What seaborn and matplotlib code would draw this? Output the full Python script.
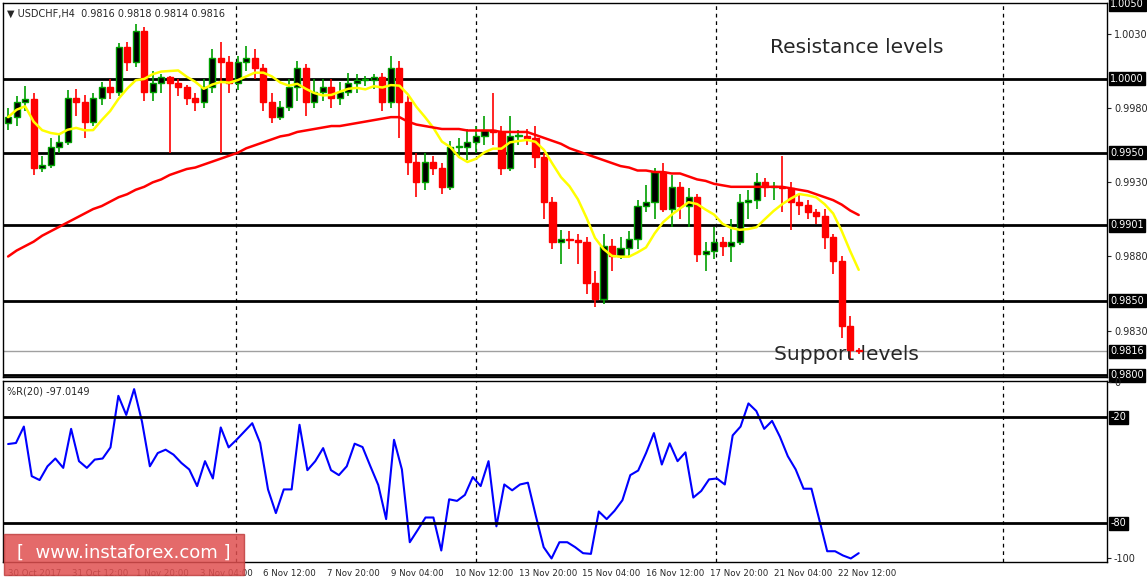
import numpy as np
import pandas as pd
import seaborn as sns
import matplotlib.pyplot as plt
from matplotlib.patches import FancyBboxPatch

# ---- candle data (USDCHF H4) ----
closes = [0.9974, 0.9984, 0.9986, 0.9940, 0.9942, 0.9954, 0.9957, 0.9987, 0.9984, 0.9971,
          0.9987, 0.9994, 0.9991, 1.0021, 1.0011, 1.0032, 0.9991, 0.9997, 1.0001, 0.9997,
          0.9994, 0.9987, 0.9984, 0.9994, 1.0014, 1.0011, 0.9997, 1.0011, 1.0014, 1.0007,
          0.9984, 0.9974, 0.9981, 0.9994, 1.0007, 0.9984, 0.9991, 0.9994, 0.9987, 0.9991,
          0.9997, 0.9999, 0.9999, 1.0001, 0.9984, 1.0007, 0.9984, 0.9944, 0.9930, 0.9944,
          0.9940, 0.9927, 0.9954, 0.9954, 0.9957, 0.9961, 0.9965, 0.9964, 0.9940, 0.9961,
          0.9961, 0.9960, 0.9947, 0.9917, 0.9890, 0.9892, 0.9891, 0.9890, 0.9862, 0.9851,
          0.9887, 0.9880, 0.9886, 0.9892, 0.9914, 0.9917, 0.9937, 0.9912, 0.9927, 0.9914,
          0.9920, 0.9882, 0.9884, 0.9890, 0.9887, 0.9890, 0.9917, 0.9918, 0.9930, 0.9927,
          0.9927, 0.9926, 0.9917, 0.9915, 0.9910, 0.9907, 0.9893, 0.9877, 0.9833, 0.9817,
          0.9816]
first_open = 0.9970
highs = [0.9980, 0.9988, 0.9995, 0.9990, 0.9948, 0.9960, 0.9962, 0.9992, 0.9993, 0.9989,
         0.9990, 0.9998, 1.0000, 1.0024, 1.0025, 1.0037, 1.0035, 1.0005, 1.0003, 1.0002,
         1.0000, 0.9996, 0.9990, 1.0000, 1.0020, 1.0025, 1.0015, 1.0015, 1.0022, 1.0020,
         1.0010, 0.9990, 0.9985, 1.0000, 1.0012, 1.0010, 1.0000, 1.0000, 1.0000, 0.9998,
         1.0004, 1.0003, 1.0002, 1.0003, 1.0004, 1.0015, 1.0012, 0.9988, 0.9950, 0.9950,
         0.9948, 0.9943, 0.9958, 0.9960, 0.9966, 0.9968, 0.9975, 0.9990, 0.9968, 0.9975,
         0.9965, 0.9966, 0.9968, 0.9950, 0.9920, 0.9898, 0.9897, 0.9895, 0.9893, 0.9870,
         0.9895, 0.9892, 0.9893, 0.9897, 0.9918, 0.9928, 0.9940, 0.9943, 0.9935, 0.9930,
         0.9926, 0.9922, 0.9890, 0.9900, 0.9893, 0.9905, 0.9922, 0.9925, 0.9936, 0.9933,
         0.9930, 0.9948, 0.9930, 0.9922, 0.9918, 0.9912, 0.9912, 0.9895, 0.9880, 0.9840,
         0.9818]
lows = [0.9965, 0.9968, 0.9978, 0.9935, 0.9937, 0.9940, 0.9950, 0.9955, 0.9975, 0.9960,
        0.9968, 0.9982, 0.9986, 0.9988, 1.0005, 1.0008, 0.9985, 0.9985, 0.9990, 0.9950,
        0.9988, 0.9982, 0.9978, 0.9980, 0.9990, 0.9950, 0.9990, 0.9992, 1.0005, 1.0000,
        0.9978, 0.9970, 0.9972, 0.9978, 0.9985, 0.9975, 0.9980, 0.9985, 0.9980, 0.9982,
        0.9988, 0.9990, 0.9995, 0.9993, 0.9978, 0.9980, 0.9960, 0.9935, 0.9920, 0.9925,
        0.9935, 0.9922, 0.9925, 0.9948, 0.9945, 0.9950, 0.9955, 0.9955, 0.9935, 0.9938,
        0.9955, 0.9955, 0.9940, 0.9905, 0.9885, 0.9875, 0.9885, 0.9875, 0.9855, 0.9846,
        0.9848, 0.9870, 0.9878, 0.9880, 0.9885, 0.9910, 0.9905, 0.9910, 0.9900, 0.9905,
        0.9900, 0.9876, 0.9870, 0.9878, 0.9880, 0.9876, 0.9888, 0.9905, 0.9912, 0.9920,
        0.9918, 0.9910, 0.9898, 0.9908, 0.9905, 0.9902, 0.9885, 0.9868, 0.9825, 0.9810,
        0.9814]
slow_ma = [0.9880, 0.9884, 0.9887, 0.9890, 0.9894, 0.9897, 0.9900, 0.9903, 0.9906, 0.9909,
           0.9912, 0.9914, 0.9917, 0.9920, 0.9922, 0.9925, 0.9927, 0.9930, 0.9932, 0.9935,
           0.9937, 0.9939, 0.9940, 0.9942, 0.9944, 0.9946, 0.9948, 0.9950, 0.9953, 0.9955,
           0.9957, 0.9959, 0.9961, 0.9962, 0.9964, 0.9965, 0.9966, 0.9967, 0.9968, 0.9968,
           0.9969, 0.9970, 0.9971, 0.9972, 0.9973, 0.9974, 0.9974, 0.9971, 0.9969, 0.9968,
           0.9967, 0.9966, 0.9966, 0.9966, 0.9965, 0.9965, 0.9965, 0.9965, 0.9964, 0.9964,
           0.9964, 0.9964, 0.9962, 0.9960, 0.9958, 0.9956, 0.9953, 0.9951, 0.9949, 0.9947,
           0.9945, 0.9943, 0.9941, 0.9940, 0.9938, 0.9938, 0.9937, 0.9937, 0.9936, 0.9936,
           0.9934, 0.9932, 0.9931, 0.9929, 0.9928, 0.9927, 0.9927, 0.9927, 0.9927, 0.9927,
           0.9927, 0.9927, 0.9926, 0.9925, 0.9924, 0.9922, 0.9920, 0.9918, 0.9915, 0.9911,
           0.9908]
wpr = [-35.2, -34.6, -25.3, -53.4, -55.6, -47.8, -43.4, -48.7, -26.6, -44.9,
       -48.7, -44.0, -43.4, -37.1, -7.9, -18.7, -4.1, -22.5, -47.8, -40.3,
       -38.4, -41.2, -45.9, -49.6, -59.0, -44.9, -54.7, -25.8, -37.1, -32.8,
       -28.1, -23.4, -34.6, -60.9, -74.3, -60.9, -60.9, -24.3, -50.0, -44.9,
       -37.5, -50.0, -52.8, -47.8, -35.0, -36.9, -47.8, -58.4, -77.7, -32.8,
       -49.6, -90.8, -83.9, -76.8, -76.8, -95.5, -66.5, -67.4, -64.0, -53.9,
       -59.0, -44.9, -81.8, -58.1, -61.4, -58.1, -57.1, -75.8, -93.6, -100.0,
       -90.8, -90.8, -93.6, -97.0, -97.4, -73.4, -77.7, -73.0, -67.0, -52.8,
       -50.2, -40.3, -29.0, -46.8, -34.8, -44.9, -39.9, -65.5, -61.8, -55.2,
       -54.7, -58.1, -30.3, -25.3, -12.2, -16.5, -26.6, -22.1, -31.1, -42.1,
       -49.6, -60.5, -60.5, -78.1, -95.9, -95.9, -98.3, -100.0, -97.0]
date_labels = ["30 Oct 2017", "31 Oct 12:00", "1 Nov 20:00", "3 Nov 04:00", "6 Nov 12:00",
               "7 Nov 20:00", "9 Nov 04:00", "10 Nov 12:00", "13 Nov 20:00", "15 Nov 04:00",
               "16 Nov 12:00", "17 Nov 20:00", "21 Nov 04:00", "22 Nov 12:00"]
levels = [1.0000, 0.9950, 0.9901, 0.9850, 0.9800]
price_ticks = [1.0030, 0.9980, 0.9930, 0.9880, 0.9830]
box_ticks = [1.0050, 1.0000, 0.9950, 0.9901, 0.9850, 0.9816, 0.9800]

n = len(closes)
opens = [first_open] + closes[:-1]
df = pd.DataFrame({"bar": np.arange(n), "open": opens, "high": highs, "low": lows,
                   "close": closes, "slow": slow_ma})
df["fast"] = df["close"].rolling(8, min_periods=1).mean()
wdf = pd.DataFrame({"bar": np.arange(len(wpr)) * (n - 1) / (len(wpr) - 1), "wpr": wpr})

sns.set_style("white")
plt.rcParams["font.family"] = ["DejaVu Sans"]
fig = plt.figure(figsize=(11.47, 5.85), dpi=100)
W, H = 1147, 585
ax = fig.add_axes([3 / W, 1 - 377 / H, 1104 / W, 374 / H])
ax2 = fig.add_axes([3 / W, 1 - 562 / H, 1104 / W, 181 / H])

px_bar = 8.53
xmax = (1107 - 5) / px_bar
for a in (ax, ax2):
    a.set_xlim(-0.6, xmax)
    for s in a.spines.values():
        s.set_color("black")
        s.set_linewidth(1)
    for xv in [26.8, 55.0, 83.2, 117]:
        a.axvline(xv, color="black", ls=(0, (3, 3)), lw=0.9, zorder=0)

# candles
for r in df.itertuples():
    bull = r.close >= r.open
    col = "#00a000" if bull else "#ff0000"
    ax.vlines(r.bar, r.low, r.high, color=col, lw=1.2, zorder=3)
    body = max(abs(r.close - r.open), 0.00008)
    ax.bar(r.bar, body, bottom=min(r.open, r.close), width=0.72,
           color="black" if bull else "#ff0000", edgecolor=col, linewidth=1, zorder=4)

sns.lineplot(data=df, x="bar", y="fast", ax=ax, color="#ffff00", lw=1.8, zorder=5)
sns.lineplot(data=df, x="bar", y="slow", ax=ax, color="#ff0000", lw=1.8, zorder=5)

for lv in levels:
    ax.axhline(lv, color="black", lw=2, zorder=2)
ax.axhline(0.9816, color="#a0a0a0", lw=1, zorder=1)
ax.set_ylim(0.97987, 1.00510)
ax.set_xlabel("")
ax.set_ylabel("")
ax.set_xticks([])
ax.yaxis.tick_right()
ax.set_yticks(price_ticks)
ax.set_yticklabels([f"{v:.4f}" for v in price_ticks], fontsize=7)
ax.tick_params(axis="y", length=3, width=0.8, pad=2)
for v in box_ticks:
    ax.text(1.003, v, f"{v:.4f}", transform=ax.get_yaxis_transform(), fontsize=7,
            color="white", va="center", ha="left",
            bbox=dict(boxstyle="square,pad=0.15", fc="black", ec="black"))

ax.text(0.004, 0.985, "\u25BC USDCHF,H4  0.9816 0.9818 0.9814 0.9816", transform=ax.transAxes,
        fontsize=7, va="top", ha="left")
ax.text(0.695, 0.88, "Resistance levels", transform=ax.transAxes, fontsize=14.5, va="center")
ax.text(0.698, 0.06, "Support levels", transform=ax.transAxes, fontsize=14.5, va="center")

# %R indicator
sns.lineplot(data=wdf, x="bar", y="wpr", ax=ax2, color="#0000ff", lw=1.5)
for lv in [-20, -80]:
    ax2.axhline(lv, color="black", lw=2)
ax2.set_ylim(-102, 0.5)
ax2.set_ylabel("")
ax2.set_xlabel("")
ax2.yaxis.tick_right()
ax2.set_yticks([0, -100])
ax2.set_yticklabels(["0", "-100"], fontsize=7)
ax2.tick_params(axis="y", length=3, width=0.8, pad=2)
for v in [-20, -80]:
    ax2.text(1.003, v, str(v), transform=ax2.get_yaxis_transform(), fontsize=7,
             color="white", va="center", ha="left",
             bbox=dict(boxstyle="square,pad=0.15", fc="black", ec="black"))
ax2.text(0.004, 0.97, "%R(20) -97.0149", transform=ax2.transAxes, fontsize=7, va="top")
ax2.set_xticks(np.arange(len(date_labels)) * 64 / px_bar)
ax2.set_xticklabels(date_labels, fontsize=6.2, ha="left")
ax2.tick_params(axis="x", length=3, width=0.8, pad=2)

# watermark
fig.patches.append(FancyBboxPatch((4 / W, 1 - 575 / H), 240 / W, 41 / H,
                                  boxstyle="square,pad=0", transform=fig.transFigure,
                                  fc="#e05050", ec="#c04040", alpha=0.85, zorder=10))
fig.text(124 / W, 1 - 553 / H, "[  www.instaforex.com ]", color="white", fontsize=13,
         ha="center", va="center", zorder=11)

fig.savefig("out.png", dpi=100, facecolor="white")
